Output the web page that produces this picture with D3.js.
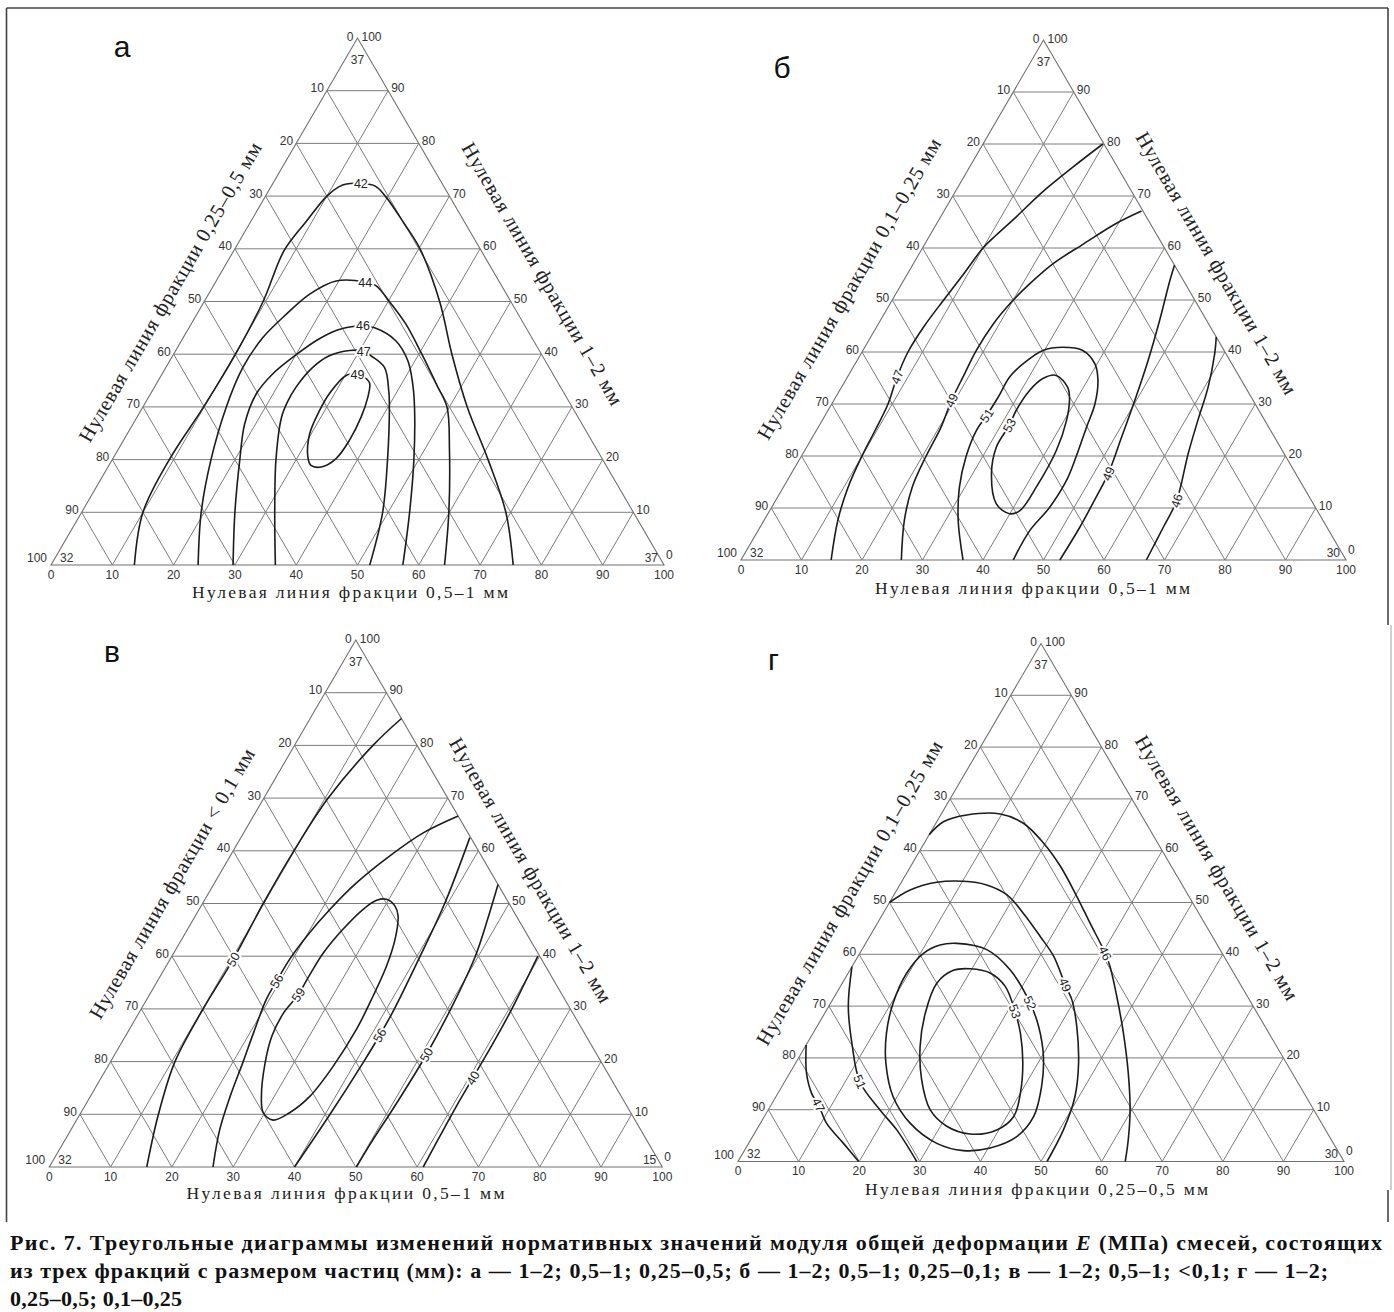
<!DOCTYPE html>
<html lang="ru">
<head>
<meta charset="utf-8">
<title>Рис. 7</title>
<script src="https://cdn.jsdelivr.net/npm/d3@7"></script>
<style>
  body { margin: 0; background: #fff; }
  svg { display: block; }
</style>
</head>
<body>
<div id="container"></div>
<script>
/* CONSTANTS AND GLOBALS */
const width = 1394, height = 1312

/* DATA */
// a contour point is [share of the fraction read along the base, share of the fraction read up to the apex], %
const ticks = d3.range(0, 101, 10)
const sideTicks = d3.range(10, 100, 10)

// E at the vertices: apex, lower left, lower right
const cornersA = [37, 32, 37]
const cornersB = [37, 32, 30]
const cornersV = [37, 32, 15]
const cornersG = [37, 32, 30]

// panel а
const a42 = [[13.6,0],[10,10],[9.3,20],[9.9,30],[10.1,40],[9.6,50],[8.2,59.6],[9,65],[10,70],[11.1,71.8],[12.05,72.3],[14.35,72.4],[16.95,71.9],[19.65,69.9],[25,65],[30.2,60],[38.4,50],[45.4,40],[52.9,30],[61.3,20],[69.2,10],[75.4,0]]
const a44 = [[24,0],[19.5,10],[16.1,20],[13.6,30],[12.55,37.5],[13,43.2],[14.6,47.6],[16.5,51.4],[19.55,53.9],[24.4,53.7],[26.5,53],[30.2,50],[35.05,45.7],[40.5,40],[46,34],[49.6,30],[54,22],[59.9,10],[64.2,0]]
const a46 = [[29.7,0],[25,10],[20.8,20],[18.2,26.8],[17.25,32.5],[18.05,36.3],[20.05,39.9],[22,42.6],[24.25,44.5],[26.4,45.2],[28.2,45.4],[30.3,45],[34.9,42.6],[38.8,38.8],[41.8,34.4],[44.3,30],[49.2,20],[53.5,10],[57.4,0]]
const a47 = [[36.6,0],[31.5,10],[26.7,20],[23.6,28],[23.1,31],[23.1,33.8],[23.95,37.5],[25.55,39.7],[28.35,40.7],[30.7,40.6],[32.35,39.7],[35.65,37.5],[38.6,33],[40.2,30],[44.9,20],[49.1,10],[52,0]]
const a49 = [[31.9,36.2],[30.2,36],[29.15,32.5],[29.15,29.3],[29.75,24.9],[31.65,20.5],[32.95,18.9],[34.8,18.6],[36.4,20.2],[36.85,23.7],[36.55,28.1],[35.75,31.9],[34.8,34.4],[33.85,35.3]]

// panel б
const b47 = [[19.8,80],[17.1,75.6],[14.45,70.8],[12.5,66],[10.95,62.5],[10,60],[9.3,55],[8.5,50],[7.8,45],[7.6,40],[8.2,35.2],[9.3,30],[9.7,25],[10,20],[10.7,14],[12.2,7.6],[14.9,0]]
const b49L = [[32.65,67.1],[29.65,64.7],[26.25,60.8],[23.1,57],[21.15,53.1],[19.9,49.6],[19,45.4],[18.75,40.3],[19.1,35.2],[19.45,30.7],[20.3,25.5],[20.6,20],[21.3,14],[23.2,7.6],[26.5,0]]
const b51 = [[36.7,0],[32.1,7.6],[29.1,14],[27.25,19.9],[26.45,24.9],[26.7,27.8],[26.85,31.3],[26.8,35.2],[27.75,37.7],[29.75,40.3],[32.75,40.9],[36.35,40.3],[39.65,37.7],[41.75,34.5],[43.5,30],[44.35,25.5],[45.45,19.9],[46.15,15.3],[45.95,10.1],[44.9,5.6],[45,0]]
const b53 = [[34.35,35.5],[37.4,33.2],[38.8,31],[40.4,26.8],[41.6,21],[41.8,14],[41.35,9.5],[39.95,8.9],[36.8,10.8],[33.1,16.6],[31.35,21.7],[31.4,25.9],[31.1,28.8],[31.4,32.6],[32.45,34.9]]
const b49R = [[43.3,56.7],[44,53.8],[46.15,46.1],[48.1,38.4],[49.75,30.7],[51.1,23.6],[52.4,16.6],[52.65,12.1],[52.85,6.3],[52.7,0]]
const b46 = [[57.1,42.9],[58.45,39.7],[60.6,33.2],[62.1,26.8],[63.7,20.4],[66.3,11.4],[66.65,6.3],[67,0]]

// panel в
const v50L = [[14.9,85.1],[12.8,80],[10.5,70],[9.9,60],[9.9,50],[10.3,39.4],[10.1,30],[10.5,20],[12.8,10],[15.9,0]]
const v56L = [[33.4,66.6],[29.3,63.4],[26,59],[23.15,53.9],[21.35,48.9],[20.1,43.8],[19.5,39.4],[19.45,35.3],[19.5,31.8],[20.6,25.4],[21.65,19.9],[22.8,13.4],[24.25,7.1],[26.7,0]]
const v59 = [[29.6,50.8],[31.65,49.5],[33.1,47.6],[34.8,43.2],[35.95,38.1],[36.6,32.4],[37.05,26.1],[36.75,19.1],[35.8,13.4],[34.05,10.3],[32.05,8.9],[29.75,10.3],[27.9,13.4],[25.35,19.7],[23.9,24.8],[23.6,29.2],[24.25,32.7],[24.25,36.5],[24.4,40.6],[25.35,45.1],[26.75,48.9],[28.1,50.6]]
const v56R = [[37.35,62.5],[39.5,50],[40.5,40],[41.3,30],[41.4,25],[41.3,20],[40.8,10],[40,0]]
const v50R = [[46.4,53.6],[48,47],[49.5,40],[50.5,30],[50.85,21.3],[50.6,12],[50.2,5],[50.1,0]]
const v40 = [[59.7,40],[60.15,34.3],[60.5,29.2],[60.65,23.5],[60.65,16.9],[60.65,11.5],[60.8,5.8],[61,0]]

// panel г
const g46 = [[0,63.1],[1.1,65.6],[4.3,66.9],[9.75,67.1],[14.45,65.3],[19.65,61.5],[24.7,57],[30.3,51.2],[35.1,46],[40.5,40.2],[42.6,37.6],[46.55,31.9],[51.2,24.8],[55.85,17.1],[59.7,10],[62.3,4.2],[63.9,0]]
const g49 = [[0,50],[2.2,52.4],[5.85,53.9],[10.15,54.1],[14.35,53.4],[18.6,51.5],[23.15,47.9],[28.2,43.4],[32.3,39.6],[36.95,34.1],[39.5,31.2],[42.85,26.1],[46.7,19],[49.35,12.5],[50.65,6.1],[51,0]]
const g52 = [[15.05,42.1],[20.6,40.9],[26.4,37],[32.9,30.6],[36.55,26.1],[40.25,20.3],[42.85,14.5],[44.45,8.7],[43.6,4.8],[40.3,2.6],[36.15,2.1],[31.05,3.5],[24.7,7.4],[19.35,12.5],[14.9,19],[12.1,24.8],[10.3,30.6],[9.65,36.4],[10.5,40.2],[12.45,41.8]]
const g53 = [[19.7,37.2],[23.4,36.4],[27.2,33.8],[31.2,29],[34.2,24.8],[37.5,19],[40,13.2],[41.15,8.7],[39.65,6.1],[35.65,5.3],[31.05,6.8],[26.7,10],[22.4,15.8],[18.95,22.2],[16.6,28.6],[15.6,34.4],[17.1,36.9]]
const g51 = [[0,37.6],[3.25,29.9],[7.4,22.8],[12.4,15.4],[18.4,10],[23.15,6.1],[29.5,0]]
const g47 = [[0,22.5],[2.75,17.1],[5.7,13],[7.85,10.9],[10.9,7.4],[15.65,3.5],[19.9,0]]

const caption = [
  ["Рис. 7. Треугольные диаграммы изменений нормативных значений модуля общей деформации ", "E", " (МПа) смесей, состоящих"],
  ["из трех фракций с размером частиц (мм): а — 1–2; 0,5–1; 0,25–0,5; б — 1–2; 0,5–1; 0,25–0,1; в — 1–2; 0,5–1; <0,1; г — 1–2;"],
  ["0,25–0,5; 0,1–0,25"]
]

/* PANEL LAYOUT */
// titles: [distance out of the side, shift along the side, length]
const panels = [
  {
    letter: "а", letterAt: [122, 56.5], rotate: false,
    box: { left: 51, base: 565, w: 613, h: 527 },
    corners: cornersA,
    leftTitle: "Нулевая линия фракции 0,25–0,5 мм", leftPos: [34.6, -9, 343],
    rightTitle: "Нулевая линия фракции 1–2 мм", rightPos: [41.6, -8, 300],
    bottomTitle: "Нулевая линия фракции 0,5–1 мм", bottomPos: [350, 591.5, 316],
    contours: [
      { v: 42, pts: a42, lab: 11 }, { v: 44, pts: a44, lab: 9 }, { v: 46, pts: a46, lab: 10 },
      { v: 47, pts: a47, lab: 9 }, { v: 49, pts: a49, lab: 0, closed: true }
    ]
  },
  {
    letter: "б", letterAt: [782, 78], rotate: true,
    box: { left: 741, base: 560, w: 605, h: 520 },
    corners: cornersB,
    leftTitle: "Нулевая линия фракции 0,1–0,25 мм", leftPos: [43.2, -12, 345],
    rightTitle: "Нулевая линия фракции 1–2 мм", rightPos: [37.6, -21, 300],
    bottomTitle: "Нулевая линия фракции 0,5–1 мм", bottomPos: [1032.6, 587.5, 315],
    contours: [
      { v: 47, pts: b47, lab: 10 }, { v: 49, pts: b49L, lab: 9 }, { v: 51, pts: b51, lab: 5 },
      { v: 53, pts: b53, lab: 11, closed: true }, { v: 49, pts: b49R, lab: 6 }, { v: 46, pts: b46, lab: 5 }
    ]
  },
  {
    letter: "в", letterAt: [112, 662], rotate: true,
    box: { left: 49.3, base: 1167, w: 613, h: 527 },
    corners: cornersV,
    leftTitle: "Нулевая линия фракции < 0,1 мм", leftPos: [36.8, 1.8, 309],
    rightTitle: "Нулевая линия фракции 1–2 мм", rightPos: [35.7, -18, 303],
    bottomTitle: "Нулевая линия фракции 0,5–1 мм", bottomPos: [345.6, 1193, 318],
    contours: [
      { v: 50, pts: v50L, lab: 5 }, { v: 56, pts: v56L, lab: 7 }, { v: 59, pts: v59, lab: 16, closed: true },
      { v: 56, pts: v56R, lab: 4 }, { v: 50, pts: v50R, lab: 4 }, { v: 40, pts: v40, lab: 4 }
    ]
  },
  {
    letter: "г", letterAt: [773.5, 670], rotate: true,
    box: { left: 738, base: 1161.5, w: 606, h: 518 },
    corners: cornersG,
    leftTitle: "Нулевая линия фракции 0,1–0,25 мм", leftPos: [39.8, -12, 349],
    rightTitle: "Нулевая линия фракции 1–2 мм", rightPos: [38.8, -17.7, 303],
    bottomTitle: "Нулевая линия фракции 0,25–0,5 мм", bottomPos: [1036.6, 1189, 343],
    contours: [
      { v: 46, pts: g46, lab: 9 }, { v: 49, pts: g49, lab: 9 }, { v: 52, pts: g52, lab: 3, closed: true },
      { v: 53, pts: g53, lab: 3, closed: true }, { v: 51, pts: g51, lab: 3 }, { v: 47, pts: g47, lab: 3 }
    ]
  }
]

/* SVG */
const svg = d3.select("#container")
  .append("svg")
  .attr("width", width)
  .attr("height", height)
  .style("font-family", "'Liberation Sans', Arial, sans-serif")

svg.append("rect").attr("width", width).attr("height", height).attr("fill", "#fff")

// frame around the figure
const frame = [
  [6.5, 8, 1388, 8, "#444"],
  [6.5, 8, 6.5, 1222, "#444"],
  [1388, 8, 1388, 625, "#444"],
  [1391, 625, 1391, 1190, "#c4c4c4"],
  [1388, 1190, 1388, 1222, "#444"]
]
svg.selectAll("line.frame")
  .data(frame)
  .join("line")
  .attr("class", "frame")
  .attr("x1", d => d[0]).attr("y1", d => d[1])
  .attr("x2", d => d[2]).attr("y2", d => d[3])
  .attr("stroke", d => d[4])
  .attr("stroke-width", 1.6)

function sideTitle(g, from, to, pos, text) {
  const dx = to[0] - from[0], dy = to[1] - from[1]
  const len = Math.hypot(dx, dy)
  const u = [dx / len, dy / len], n = [u[1], -u[0]]
  const cx = (from[0] + to[0]) / 2 + n[0] * pos[0] + u[0] * pos[1]
  const cy = (from[1] + to[1]) / 2 + n[1] * pos[0] + u[1] * pos[1]
  const ang = Math.atan2(dy, dx) * 180 / Math.PI
  g.append("text")
    .attr("transform", `translate(${cx},${cy}) rotate(${ang})`)
    .attr("text-anchor", "middle")
    .attr("dy", "0.35em")
    .attr("font-family", "'Liberation Serif', 'Times New Roman', serif")
    .attr("font-size", 20.5)
    .attr("fill", "#222")
    .attr("textLength", pos[2])
    .text(text)
}

panels.forEach(p => {
  const { left, base, w, h } = p.box
  const x = d3.scaleLinear().domain([0, 100]).range([left, left + w])
  const y = d3.scaleLinear().domain([0, 100]).range([base, base - h])
  const px = d => x(d[0] + d[1] / 2)
  const py = d => y(d[1])
  const g = svg.append("g")

  // GRID
  const grid = d3.range(10, 100, 10).flatMap(k => [
    [[0, k], [100 - k, k]],
    [[k, 0], [k, 100 - k]],
    [[100 - k, 0], [0, 100 - k]]
  ])
  g.selectAll("line.grid")
    .data(grid)
    .join("line")
    .attr("class", "grid")
    .attr("x1", d => px(d[0])).attr("y1", d => py(d[0]))
    .attr("x2", d => px(d[1])).attr("y2", d => py(d[1]))
    .attr("stroke", "#7c7c7c")
    .attr("stroke-width", 1)

  g.append("path")
    .attr("d", d3.line().x(px).y(py)([[0, 0], [100, 0], [0, 100]]) + "Z")
    .attr("fill", "none")
    .attr("stroke", "#707070")
    .attr("stroke-width", 1.1)

  const bl = [px([0, 0]), py([0, 0])]
  const br = [px([100, 0]), py([100, 0])]
  const ap = [px([0, 100]), py([0, 100])]

  // TICK LABELS
  const tick = g.append("g").attr("font-size", 12).attr("fill", "#333")
  tick.selectAll("text.bottom")
    .data(ticks)
    .join("text")
    .attr("class", "bottom")
    .attr("x", v => px([v, 0]))
    .attr("y", base + 13.5)
    .attr("text-anchor", "middle")
    .text(v => v)
  tick.selectAll("text.left")
    .data(sideTicks)
    .join("text")
    .attr("class", "left")
    .attr("x", v => px([0, 100 - v]) - 3)
    .attr("y", v => py([0, 100 - v]) + 1.5)
    .attr("text-anchor", "end")
    .text(v => v)
  tick.selectAll("text.right")
    .data(sideTicks)
    .join("text")
    .attr("class", "right")
    .attr("x", v => px([100 - v, v]) + 3)
    .attr("y", v => py([100 - v, v]) + 1.5)
    .attr("text-anchor", "start")
    .text(v => v)

  const ends = [
    [bl[0] - 4, bl[1] - 3, "end", 100],
    [ap[0] - 4, ap[1] + 2.5, "end", 0],
    [ap[0] + 4, ap[1] + 2.5, "start", 100],
    [br[0] + 2, br[1] - 6.5, "start", 0],
    [ap[0], ap[1] + 25.5, "middle", p.corners[0]],
    [bl[0] + 9, bl[1] - 3.5, "start", p.corners[1]],
    [br[0] - 6, br[1] - 3.5, "end", p.corners[2]]
  ]
  tick.selectAll("text.end")
    .data(ends)
    .join("text")
    .attr("class", "end")
    .attr("x", d => d[0])
    .attr("y", d => d[1])
    .attr("text-anchor", d => d[2])
    .text(d => d[3])

  // CONTOURS
  const openLine = d3.line().x(px).y(py).curve(d3.curveCatmullRom.alpha(0.5))
  const closedLine = d3.line().x(px).y(py).curve(d3.curveCatmullRomClosed.alpha(0.5))

  g.selectAll("path.contour")
    .data(p.contours)
    .join("path")
    .attr("class", "contour")
    .attr("d", c => (c.closed ? closedLine : openLine)(c.pts))
    .attr("fill", "none")
    .attr("stroke", "#1c1c1c")
    .attr("stroke-width", 1.6)

  g.selectAll("text.clabel")
    .data(p.contours)
    .join("text")
    .attr("class", "clabel")
    .attr("transform", c => {
      const n = c.pts.length, i = c.lab
      const a = c.closed ? c.pts[(i - 1 + n) % n] : c.pts[Math.max(i - 1, 0)]
      const b = c.closed ? c.pts[(i + 1) % n] : c.pts[Math.min(i + 1, n - 1)]
      let ang = Math.atan2(py(b) - py(a), px(b) - px(a)) * 180 / Math.PI
      if (ang > 90) ang -= 180
      if (ang < -90) ang += 180
      if (!p.rotate) ang = 0
      return `translate(${px(c.pts[i])},${py(c.pts[i])}) rotate(${ang})`
    })
    .attr("text-anchor", "middle")
    .attr("dy", "0.36em")
    .attr("font-size", 12.5)
    .attr("fill", "#222")
    .attr("stroke", "#fff")
    .attr("stroke-width", 4)
    .attr("paint-order", "stroke")
    .text(c => c.v)

  // AXIS TITLES
  sideTitle(g, bl, ap, p.leftPos, p.leftTitle)
  sideTitle(g, ap, br, p.rightPos, p.rightTitle)
  g.append("text")
    .attr("x", p.bottomPos[0])
    .attr("y", p.bottomPos[1])
    .attr("dy", "0.35em")
    .attr("text-anchor", "middle")
    .attr("font-family", "'Liberation Serif', 'Times New Roman', serif")
    .attr("font-size", 17.5)
    .attr("fill", "#222")
    .attr("textLength", p.bottomPos[2])
    .text(p.bottomTitle)

  // PANEL LETTER
  g.append("text")
    .attr("x", p.letterAt[0])
    .attr("y", p.letterAt[1])
    .attr("text-anchor", "middle")
    .attr("font-size", 30)
    .attr("fill", "#111")
    .text(p.letter)
})

// CAPTION
const capLayout = [[1250, 1372], [1278, 1318], [1306, 172]]
caption.forEach((parts, i) => {
  const t = svg.append("text")
    .attr("x", 10)
    .attr("y", capLayout[i][0])
    .attr("font-family", "'Liberation Serif', 'Times New Roman', serif")
    .attr("font-weight", "bold")
    .attr("font-size", 22)
    .attr("fill", "#111")
    .attr("textLength", capLayout[i][1])
  parts.forEach((s, j) => {
    t.append("tspan")
      .attr("font-style", parts.length === 3 && j === 1 ? "italic" : null)
      .text(s)
  })
})
</script>
</body>
</html>
